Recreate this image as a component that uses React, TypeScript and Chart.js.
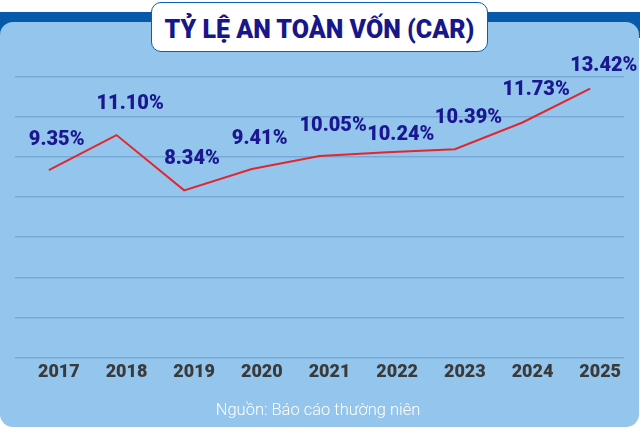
import React, { useEffect, useRef } from "react";
import { Chart, registerables } from "chart.js";

Chart.register(...registerables);

const years = ["2017", "2018", "2019", "2020", "2021", "2022", "2023", "2024", "2025"];
const carValues = [9.35, 11.1, 8.34, 9.41, 10.05, 10.24, 10.39, 11.73, 13.42];
const yTicks = [0, 2, 4, 6, 8, 10, 12, 14];

// vertical offsets of the value labels relative to their points (px)
const labelDy = [-30, -31, -31, -30, -30, -17, -31, -32, -23];

const valueLabelPlugin = {
  id: "valueLabels",
  afterDatasetsDraw(chart: any) {
    const ctx = chart.ctx;
    const meta = chart.getDatasetMeta(0);
    ctx.save();
    ctx.font = "900 20px Roboto";
    ctx.fillStyle = "#1a1790";
    ctx.textAlign = "left";
    ctx.textBaseline = "middle";
    meta.data.forEach((pt: any, i: number) => {
      const v = carValues[i];
      ctx.fillText(v.toFixed(2) + "%", pt.x - 20, pt.y + labelDy[i]);
    });
    ctx.restore();
  },
};

export default function App() {
  const canvasRef = useRef<HTMLCanvasElement | null>(null);

  useEffect(() => {
    if (!canvasRef.current) return;
    const chart = new Chart(canvasRef.current, {
      type: "line",
      data: {
        labels: years,
        datasets: [
          {
            data: carValues,
            borderColor: "#e3262d",
            borderWidth: 2,
            pointRadius: 0,
            tension: 0,
            fill: false,
          },
        ],
      },
      options: {
        animation: false,
        responsive: false,
        maintainAspectRatio: false,
        layout: { padding: { left: 15, right: 16, top: 77, bottom: 41 } },
        plugins: {
          legend: { display: false },
          tooltip: { enabled: false },
          title: { display: false },
        },
        scales: {
          x: {
            offset: true,
            grid: { display: false, drawTicks: false },
            border: { display: false },
            ticks: {
              color: "#3a3a3a",
              font: { family: "Roboto", weight: "900", size: 18 },
              padding: 4,
              labelOffset: 10,
              maxRotation: 0,
              autoSkip: false,
            },
          },
          y: {
            min: yTicks[0],
            max: yTicks[yTicks.length - 1],
            afterBuildTicks: (axis: any) => {
              axis.ticks = yTicks.map((v) => ({ value: v }));
            },
            grid: { color: "#78a9d4", lineWidth: 1.5, drawTicks: false },
            border: { display: false },
            ticks: { display: false },
          },
        },
      },
      plugins: [valueLabelPlugin],
    });
    return () => chart.destroy();
  }, []);

  return (
    <div
      style={{
        position: "absolute",
        left: 0,
        top: 0,
        width: 640,
        height: 428,
        background: "#ffffff",
        overflow: "hidden",
      }}
    >
      <div
        style={{
          position: "absolute",
          left: 0,
          top: 12,
          width: 640,
          height: 26,
          background: "#0759aa",
        }}
      />
      <div
        style={{
          position: "absolute",
          left: 0,
          top: 22,
          width: 639,
          height: 405,
          background: "#93c5ed",
          borderRadius: 13,
        }}
      />
      <canvas
        ref={canvasRef}
        width={640}
        height={428}
        style={{ position: "absolute", left: 0, top: 0, width: 640, height: 428 }}
      />
      <div
        style={{
          position: "absolute",
          left: 151,
          top: 2,
          width: 337,
          height: 50,
          boxSizing: "border-box",
          background: "#ffffff",
          border: "1.5px solid #0a5fb0",
          borderRadius: 10,
          display: "flex",
          alignItems: "center",
          justifyContent: "center",
          paddingTop: 5,
          fontFamily: "Roboto",
          fontWeight: 900,
          fontSize: 25,
          color: "#17178a",
          whiteSpace: "nowrap",
        }}
      >
        TỶ LỆ AN TOÀN VỐN (CAR)
      </div>
      <div
        style={{
          position: "absolute",
          left: 0,
          width: 636,
          top: 400,
          textAlign: "center",
          fontFamily: "Roboto",
          fontWeight: 300,
          fontSize: 16.5,
          lineHeight: "20px",
          color: "#ffffff",
        }}
      >
        Nguồn: Báo cáo thường niên
      </div>
    </div>
  );
}
